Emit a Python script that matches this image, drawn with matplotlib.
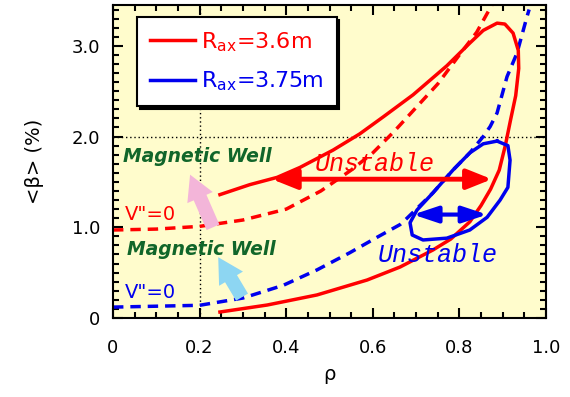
import matplotlib.pyplot as plt
from matplotlib.ticker import MultipleLocator

plt.rcParams['font.family'] = ['DejaVu Sans']

# R_ax = 3.6 m : stability boundary (closed curve) and V''=0 line
red_rho = [0.247, 0.356, 0.471, 0.587, 0.663, 0.739, 0.780, 0.824, 0.850, 0.872,
           0.892, 0.906, 0.918, 0.930, 0.937, 0.936, 0.924, 0.905, 0.887, 0.855,
           0.824, 0.771, 0.693, 0.625, 0.570, 0.508, 0.432, 0.379, 0.316, 0.247]
red_beta = [0.066, 0.143, 0.254, 0.419, 0.562, 0.750, 0.870, 1.060, 1.240, 1.420,
            1.630, 1.900, 2.180, 2.450, 2.750, 2.950, 3.140, 3.240, 3.250, 3.170,
            3.030, 2.780, 2.460, 2.220, 2.030, 1.850, 1.660, 1.550, 1.470, 1.360]
red_well_rho = [0.0, 0.1, 0.2, 0.3, 0.4, 0.48, 0.55, 0.6, 0.65, 0.7, 0.75, 0.8, 0.84, 0.875]
red_well_beta = [0.97, 0.98, 1.01, 1.08, 1.20, 1.40, 1.63, 1.82, 2.06, 2.32, 2.58, 2.90, 3.15, 3.45]

# R_ax = 3.75 m : unstable island and V''=0 line
blue_rho = [0.887, 0.912, 0.917, 0.912, 0.894, 0.864, 0.824, 0.771, 0.716, 0.691,
            0.686, 0.702, 0.739, 0.785, 0.824, 0.855, 0.887]
blue_beta = [1.95, 1.90, 1.74, 1.44, 1.30, 1.11, 0.97, 0.88, 0.86, 0.915,
             1.05, 1.19, 1.38, 1.63, 1.82, 1.92, 1.95]
blue_well_rho = [0.0, 0.2, 0.30, 0.393, 0.471, 0.547, 0.61, 0.663, 0.679, 0.739,
                 0.785, 0.824, 0.855, 0.871, 0.887, 0.91, 0.933, 0.956, 0.961]
blue_well_beta = [0.12, 0.14, 0.22, 0.36, 0.53, 0.72, 0.89, 1.03, 1.10, 1.38,
                  1.63, 1.82, 2.00, 2.11, 2.26, 2.66, 2.92, 3.32, 3.40]

# unstable ranges (rho span, beta level)
red_unstable = ([0.367, 0.875], 1.53)
blue_unstable = ([0.693, 0.864], 1.14)

legend_labels = [r'$\mathregular{R_{ax}}$=3.6m', r'$\mathregular{R_{ax}}$=3.75m']

fig = plt.figure(figsize=(5.7, 3.97), dpi=100)
ax = fig.add_axes([113 / 570, 1 - 318 / 397, 433 / 570, 313 / 397])
ax.set_facecolor('#fffccc')

ax.axhline(2.0, color='k', ls=(0, (1, 2)), lw=1, zorder=1)
ax.axvline(0.2, color='k', ls=(0, (1, 2)), lw=1, zorder=1)

ax.plot(red_rho, red_beta, color='#ff0000', lw=2.5, label=legend_labels[0], zorder=3)
ax.plot(blue_rho, blue_beta, color='#0000ee', lw=2.5, label=legend_labels[1], zorder=3)
ax.plot(red_well_rho, red_well_beta, color='#ff0000', lw=2.5, ls=(0, (3, 2)), zorder=2)
ax.plot(blue_well_rho, blue_well_beta, color='#0000ee', lw=2.5, ls=(0, (3, 2)), zorder=2)

# double-headed arrows marking the unstable ranges
span, lev = red_unstable
ax.annotate('', xy=(span[1], lev), xytext=(span[0], lev),
            arrowprops=dict(arrowstyle='<|-|>,head_length=0.75,head_width=0.3',
                            color='#ff0000', lw=3.5, mutation_scale=20,
                            shrinkA=0, shrinkB=0), zorder=4)
span, lev = blue_unstable
ax.annotate('', xy=(span[1], lev), xytext=(span[0], lev),
            arrowprops=dict(arrowstyle='<|-|>,head_length=0.75,head_width=0.25',
                            color='#0000ee', lw=3, mutation_scale=20,
                            shrinkA=0, shrinkB=0), zorder=4)

ax.text(0.605, 1.70, 'Unstable', color='#ff0000', fontsize=18, style='italic',
        family='Liberation Mono', ha='center', va='center')
ax.text(0.75, 0.69, 'Unstable', color='#0000ee', fontsize=18, style='italic',
        family='Liberation Mono', ha='center', va='center')

green = '#11662a'
ax.text(0.023, 1.78, 'Magnetic Well', color=green, fontsize=13.5, weight='bold',
        style='italic', ha='left', va='center')
ax.text(0.032, 0.75, 'Magnetic Well', color=green, fontsize=13.5, weight='bold',
        style='italic', ha='left', va='center')
ax.text(0.028, 1.14, 'V"=0', color='#ff0000', fontsize=14, ha='left', va='center')
ax.text(0.028, 0.28, 'V"=0', color='#0000ee', fontsize=14, ha='left', va='center')

# fat arrows pointing into the magnetic well region
fat = 'simple,head_length=1.8,head_width=2.0,tail_width=1.0'
ax.annotate('', xy=(0.178, 1.58), xytext=(0.231, 1.00),
            arrowprops=dict(arrowstyle=fat, color='#f3b5d9', lw=0,
                            mutation_scale=10, shrinkA=0, shrinkB=0))
ax.annotate('', xy=(0.243, 0.67), xytext=(0.298, 0.23),
            arrowprops=dict(arrowstyle=fat, color='#8dd6f2', lw=0,
                            mutation_scale=10, shrinkA=0, shrinkB=0))

ax.set_xlim(0, 1.0)
ax.set_ylim(0, 3.45)
ax.xaxis.set_major_locator(MultipleLocator(0.2))
ax.xaxis.set_minor_locator(MultipleLocator(0.05))
ax.yaxis.set_major_locator(MultipleLocator(1.0))
ax.yaxis.set_minor_locator(MultipleLocator(0.1))
ax.set_xticks([0, 0.2, 0.4, 0.6, 0.8, 1.0], ['0', '0.2', '0.4', '0.6', '0.8', '1.0'])
ax.set_yticks([0, 1.0, 2.0, 3.0], ['0', '1.0', '2.0', '3.0'])
ax.tick_params(which='both', direction='in', top=True, right=True, width=1.5,
               labelsize=13, colors='k')
ax.tick_params(axis='x', which='major', length=7, pad=15)
ax.tick_params(axis='y', which='major', length=7, pad=9)
ax.tick_params(which='minor', length=4)
for s in ax.spines.values():
    s.set_linewidth(1.5)

ax.set_xlabel('ρ', fontsize=14, labelpad=6)
ax.set_ylabel('<β> (%)', fontsize=14, labelpad=20)

leg = ax.legend(loc='upper left', bbox_to_anchor=(0.055, 0.962), fontsize=16,
                frameon=True, fancybox=False, shadow={'color': 'black', 'alpha': 1},
                edgecolor='black', framealpha=1, labelcolor='linecolor',
                handlelength=2.0, handletextpad=0.3, borderpad=0.6,
                labelspacing=0.7, borderaxespad=0)
leg.get_frame().set_linewidth(1.5)

fig.savefig('out.png', dpi=100)
